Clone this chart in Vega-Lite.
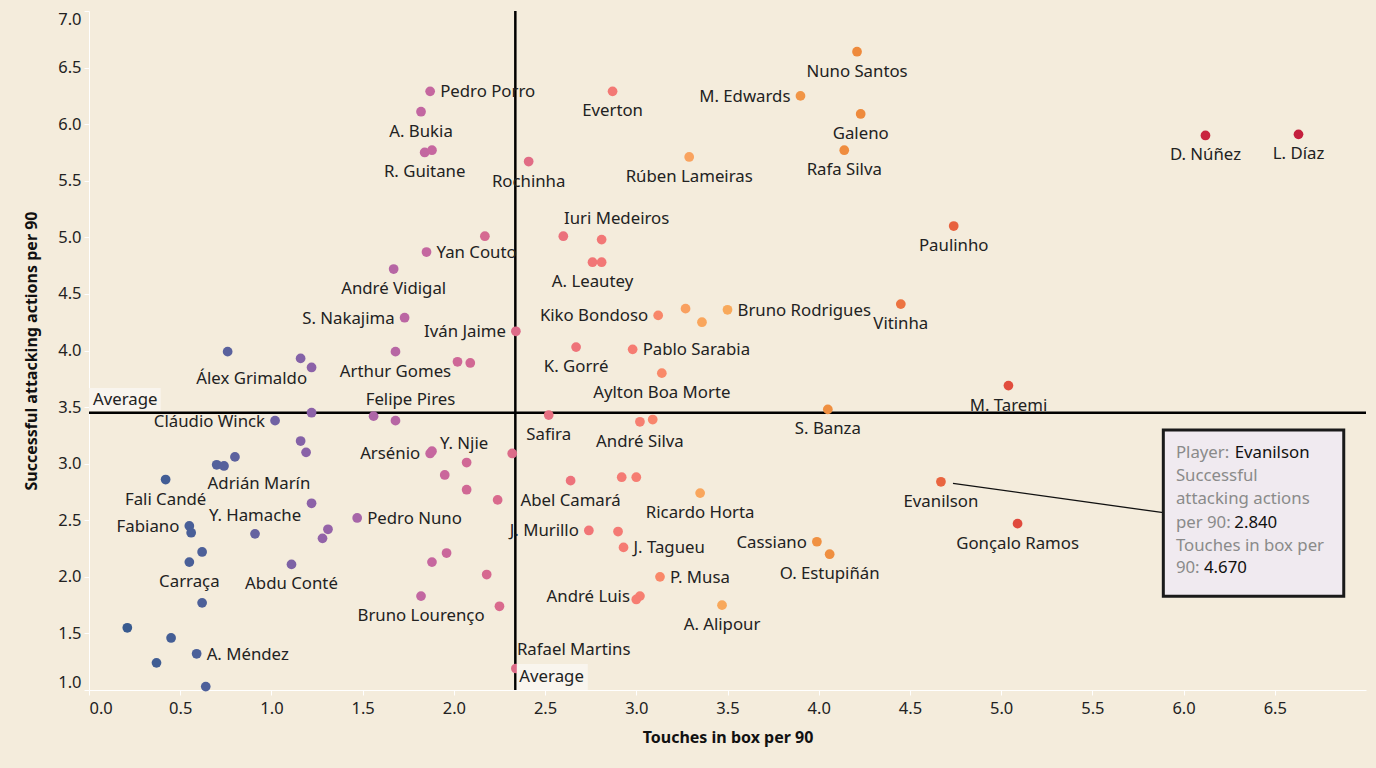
{
  "$schema": "https://vega.github.io/schema/vega-lite/v6.json",
  "width": 1277,
  "height": 679,
  "autosize": {"type": "none"},
  "padding": {"left": 89, "top": 11, "right": 10, "bottom": 78},
  "background": "#f4ecdc",
  "config": {"view": {"stroke": null}, "font": "Noto Sans"},
  "datasets": {
    "players": [
      {"player": "Pedro Porro", "touches": 1.87, "saa": 6.29},
      {"player": "A. Bukia", "touches": 1.82, "saa": 6.11},
      {"player": "R. Guitane", "touches": 1.84, "saa": 5.75},
      {"touches": 1.88, "saa": 5.77},
      {"player": "Yan Couto", "touches": 1.85, "saa": 4.87},
      {"player": "André Vidigal", "touches": 1.67, "saa": 4.72},
      {"player": "S. Nakajima", "touches": 1.73, "saa": 4.29},
      {"player": "Álex Grimaldo", "touches": 0.76, "saa": 3.99},
      {"touches": 1.16, "saa": 3.93},
      {"touches": 1.22, "saa": 3.85},
      {"player": "Arthur Gomes", "touches": 1.68, "saa": 3.99},
      {"touches": 2.02, "saa": 3.9},
      {"touches": 2.09, "saa": 3.89},
      {"player": "Cláudio Winck", "touches": 1.02, "saa": 3.38},
      {"touches": 1.22, "saa": 3.45},
      {"touches": 1.56, "saa": 3.42},
      {"player": "Felipe Pires", "touches": 1.68, "saa": 3.38},
      {"touches": 1.16, "saa": 3.2},
      {"touches": 1.19, "saa": 3.1},
      {"touches": 0.7, "saa": 2.99},
      {"touches": 0.74, "saa": 2.98},
      {"player": "Adrián Marín", "touches": 0.8, "saa": 3.06},
      {"player": "Fali Candé", "touches": 0.42, "saa": 2.86},
      {"player": "Arsénio", "touches": 1.87, "saa": 3.09},
      {"player": "Y. Njie", "touches": 1.88, "saa": 3.11},
      {"touches": 1.95, "saa": 2.9},
      {"player": "A. Leautey", "touches": 2.76, "saa": 4.78},
      {"touches": 2.81, "saa": 4.78},
      {"player": "Iván Jaime", "touches": 2.34, "saa": 4.17},
      {"player": "Kiko Bondoso", "touches": 3.12, "saa": 4.31},
      {"touches": 3.27, "saa": 4.37},
      {"touches": 3.36, "saa": 4.25},
      {"player": "Bruno Rodrigues", "touches": 3.5, "saa": 4.36},
      {"player": "K. Gorré", "touches": 2.67, "saa": 4.03},
      {"player": "Pablo Sarabia", "touches": 2.98, "saa": 4.01},
      {"player": "Aylton Boa Morte", "touches": 3.14, "saa": 3.8},
      {"player": "Safira", "touches": 2.52, "saa": 3.43},
      {"player": "André Silva", "touches": 3.02, "saa": 3.37},
      {"touches": 3.09, "saa": 3.39},
      {"touches": 2.32, "saa": 3.09},
      {"touches": 2.07, "saa": 3.01},
      {"touches": 2.07, "saa": 2.77},
      {"touches": 2.24, "saa": 2.68},
      {"player": "Abel Camará", "touches": 2.64, "saa": 2.85},
      {"touches": 2.92, "saa": 2.88},
      {"touches": 3.0, "saa": 2.88},
      {"player": "Ricardo Horta", "touches": 3.35, "saa": 2.74},
      {"player": "Pedro Nuno", "touches": 1.47, "saa": 2.52},
      {"player": "J. Murillo", "touches": 2.74, "saa": 2.41},
      {"touches": 2.9, "saa": 2.4},
      {"player": "J. Tagueu", "touches": 2.93, "saa": 2.26},
      {"touches": 1.96, "saa": 2.21},
      {"touches": 1.88, "saa": 2.13},
      {"touches": 2.18, "saa": 2.02},
      {"player": "P. Musa", "touches": 3.13, "saa": 2.0},
      {"player": "André Luis", "touches": 3.02, "saa": 1.83},
      {"touches": 3.0, "saa": 1.8},
      {"player": "Bruno Lourenço", "touches": 1.82, "saa": 1.83},
      {"touches": 2.25, "saa": 1.74},
      {"player": "A. Alipour", "touches": 3.47, "saa": 1.75},
      {"player": "Rafael Martins", "touches": 2.34, "saa": 1.19},
      {"player": "Cassiano", "touches": 3.99, "saa": 2.31},
      {"player": "O. Estupiñán", "touches": 4.06, "saa": 2.2},
      {"player": "Evanilson", "touches": 4.67, "saa": 2.84},
      {"player": "Gonçalo Ramos", "touches": 5.09, "saa": 2.47},
      {"player": "Vitinha", "touches": 4.45, "saa": 4.41},
      {"player": "M. Taremi", "touches": 5.04, "saa": 3.69},
      {"player": "S. Banza", "touches": 4.05, "saa": 3.48},
      {"player": "Nuno Santos", "touches": 4.21, "saa": 6.64},
      {"player": "M. Edwards", "touches": 3.9, "saa": 6.25},
      {"player": "Galeno", "touches": 4.23, "saa": 6.09},
      {"player": "Rafa Silva", "touches": 4.14, "saa": 5.77},
      {"player": "D. Núñez", "touches": 6.12, "saa": 5.9},
      {"player": "L. Díaz", "touches": 6.63, "saa": 5.91},
      {"player": "Paulinho", "touches": 4.74, "saa": 5.1},
      {"player": "Everton", "touches": 2.87, "saa": 6.29},
      {"player": "Rochinha", "touches": 2.41, "saa": 5.67},
      {"player": "Rúben Lameiras", "touches": 3.29, "saa": 5.71},
      {"touches": 2.17, "saa": 5.01},
      {"touches": 2.6, "saa": 5.01},
      {"player": "Iuri Medeiros", "touches": 2.81, "saa": 4.98},
      {"touches": 1.22, "saa": 2.65},
      {"player": "Fabiano", "touches": 0.55, "saa": 2.45},
      {"touches": 0.56, "saa": 2.39},
      {"player": "Y. Hamache", "touches": 0.91, "saa": 2.38},
      {"touches": 1.31, "saa": 2.42},
      {"touches": 1.28, "saa": 2.34},
      {"touches": 0.62, "saa": 2.22},
      {"player": "Carraça", "touches": 0.55, "saa": 2.13},
      {"player": "Abdu Conté", "touches": 1.11, "saa": 2.11},
      {"touches": 0.62, "saa": 1.77},
      {"touches": 0.21, "saa": 1.55},
      {"touches": 0.45, "saa": 1.46},
      {"player": "A. Méndez", "touches": 0.59, "saa": 1.32},
      {"touches": 0.37, "saa": 1.24},
      {"touches": 0.64, "saa": 1.03}
    ]
  },
  "encoding": {
    "x": {
      "field": "touches", "type": "quantitative",
      "scale": {"domain": [0, 7], "nice": false, "zero": false},
      "axis": {
        "title": "Touches in box per 90",
        "values": [0, 0.5, 1, 1.5, 2, 2.5, 3, 3.5, 4, 4.5, 5, 5.5, 6, 6.5],
        "format": ".1f", "grid": false, "labelFlush": true,
        "domainColor": "#ffffff", "tickColor": "#ffffff", "tickSize": 5,
        "labelPadding": 5, "labelFontSize": 16.5, "labelColor": "#222",
        "titleFontSize": 16, "titleFontWeight": "bold", "titleColor": "#111", "titlePadding": 13
      }
    },
    "y": {
      "field": "saa", "type": "quantitative",
      "scale": {"domain": [1, 7], "nice": false, "zero": false},
      "axis": {
        "title": "Successful attacking actions per 90",
        "values": [1, 1.5, 2, 2.5, 3, 3.5, 4, 4.5, 5, 5.5, 6, 6.5, 7],
        "format": ".1f", "grid": false, "labelFlush": true,
        "domainColor": "#ffffff", "tickColor": "#ffffff", "tickSize": 5,
        "labelPadding": 3, "labelFontSize": 16.5, "labelColor": "#222",
        "titleFontSize": 16, "titleFontWeight": "bold", "titleColor": "#111", "titlePadding": 18
      }
    }
  },
  "layer": [
    {
      "data": {"values": [
        {"touches": 0, "touches2": 7, "saa": 3.45},
        {"touches": 2.337, "saa": 1, "saa2": 7}
      ]},
      "mark": {"type": "rule", "color": "#000000", "strokeWidth": 2.5},
      "encoding": {"x2": {"field": "touches2"}, "y2": {"field": "saa2"}}
    },
    {
      "data": {"name": "players"},
      "mark": {"type": "circle", "size": 95, "opacity": 1},
      "encoding": {
        "color": {
          "field": "touches", "type": "quantitative", "legend": null,
          "scale": {
            "type": "linear", "interpolate": "rgb",
            "domain": [0.2, 0.6, 1.0, 1.2, 1.5, 1.85, 2.1, 2.4, 2.7, 3.0, 3.15, 3.3, 3.55, 3.95, 4.25, 4.5, 4.75, 5.1, 6.1, 6.65],
            "range": ["#385a8f", "#4b6099", "#6d62a2", "#8a62a8", "#a965a8", "#c467a0", "#d26894", "#e06c85", "#f07478", "#f67d72", "#f98a68", "#f9a55e", "#f8aa5a", "#f09243", "#ee893b", "#ec6e42", "#e8613f", "#e0493d", "#c9243e", "#c41f3d"]
          }
        }
      }
    },
    {
      "data": {"values": [
        {"touches": 0, "touches2": 0.393, "saa": 3.465, "saa2": 3.668},
        {"touches": 2.345, "touches2": 2.734, "saa": 1.0, "saa2": 1.23}
      ]},
      "mark": {"type": "rect", "fill": "#f9f5ee"},
      "encoding": {"x2": {"field": "touches2"}, "y2": {"field": "saa2"}}
    },
    {
      "data": {"values": [
        {"touches": 0, "saa": 3.563, "label": "Average"},
        {"touches": 2.337, "saa": 1.118, "label": "Average"}
      ]},
      "mark": {"type": "text", "align": "left", "baseline": "middle", "dx": 4, "fontSize": 16.8, "color": "#222"},
      "encoding": {"text": {"field": "label"}}
    },
    {
      "data": {"name": "players"},
      "transform": [{"filter": {"field": "player", "oneOf": ["A. Bukia", "R. Guitane", "Everton", "Rochinha", "Rúben Lameiras", "Nuno Santos", "Galeno", "Rafa Silva", "D. Núñez", "L. Díaz", "Paulinho", "André Vidigal", "A. Leautey", "Vitinha", "K. Gorré", "Arthur Gomes", "Aylton Boa Morte", "M. Taremi", "S. Banza", "Safira", "André Silva", "Fali Candé", "Abel Camará", "Ricardo Horta", "Evanilson", "Gonçalo Ramos", "O. Estupiñán", "Carraça", "Abdu Conté", "Bruno Lourenço", "A. Alipour"]}}],
      "mark": {"type": "text", "align": "center", "baseline": "middle", "dy": 20, "fontSize": 16.8, "color": "#222"},
      "encoding": {"text": {"field": "player"}}
    },
    {
      "data": {"name": "players"},
      "transform": [{"filter": {"field": "player", "oneOf": ["Álex Grimaldo", "Adrián Marín"]}}],
      "mark": {"type": "text", "align": "center", "baseline": "middle", "dx": 24, "dy": 27, "fontSize": 16.8, "color": "#222"},
      "encoding": {"text": {"field": "player"}}
    },
    {
      "data": {"name": "players"},
      "transform": [{"filter": {"field": "player", "oneOf": ["Pedro Porro", "Yan Couto", "Bruno Rodrigues", "Pablo Sarabia", "Pedro Nuno", "J. Tagueu", "P. Musa", "A. Méndez"]}}],
      "mark": {"type": "text", "align": "left", "baseline": "middle", "dx": 10, "dy": 1, "fontSize": 16.8, "color": "#222"},
      "encoding": {"text": {"field": "player"}}
    },
    {
      "data": {"name": "players"},
      "transform": [{"filter": {"field": "player", "oneOf": ["M. Edwards", "S. Nakajima", "Iván Jaime", "Kiko Bondoso", "Cláudio Winck", "Arsénio", "Fabiano", "J. Murillo", "Cassiano", "André Luis"]}}],
      "mark": {"type": "text", "align": "right", "baseline": "middle", "dx": -10, "dy": 1, "fontSize": 16.8, "color": "#222"},
      "encoding": {"text": {"field": "player"}}
    },
    {
      "data": {"name": "players"},
      "transform": [{"filter": {"field": "player", "oneOf": ["Y. Hamache"]}}],
      "mark": {"type": "text", "align": "center", "baseline": "middle", "dy": -18, "fontSize": 16.8, "color": "#222"},
      "encoding": {"text": {"field": "player"}}
    },
    {
      "data": {"name": "players"},
      "transform": [{"filter": {"field": "player", "oneOf": ["Iuri Medeiros", "Felipe Pires"]}}],
      "mark": {"type": "text", "align": "center", "baseline": "middle", "dx": 15, "dy": -21, "fontSize": 16.8, "color": "#222"},
      "encoding": {"text": {"field": "player"}}
    },
    {
      "data": {"name": "players"},
      "transform": [{"filter": {"field": "player", "oneOf": ["Y. Njie"]}}],
      "mark": {"type": "text", "align": "left", "baseline": "middle", "dx": 8, "dy": -7, "fontSize": 16.8, "color": "#222"},
      "encoding": {"text": {"field": "player"}}
    },
    {
      "data": {"name": "players"},
      "transform": [{"filter": {"field": "player", "oneOf": ["Rafael Martins"]}}],
      "mark": {"type": "text", "align": "left", "baseline": "middle", "dx": 1, "dy": -18, "fontSize": 16.8, "color": "#222"},
      "encoding": {"text": {"field": "player"}}
    },
    {
      "data": {"values": [{"touches": 4.736, "saa": 2.826, "touches2": 5.889, "saa2": 2.567}]},
      "mark": {"type": "rule", "color": "#111111", "strokeWidth": 1.3},
      "encoding": {"x2": {"field": "touches2"}, "y2": {"field": "saa2"}}
    },
    {
      "data": {"values": [{"touches": 5.889, "touches2": 6.878, "saa": 1.828, "saa2": 3.298}]},
      "mark": {"type": "rect", "fill": "#f0eaf0", "stroke": "#1a1a1a", "strokeWidth": 3},
      "encoding": {"x2": {"field": "touches2"}, "y2": {"field": "saa2"}}
    },
    {
      "data": {"values": [
        {"touches": 5.958, "saa": 3.092, "t": "Player:"},
        {"touches": 5.958, "saa": 2.891, "t": "Successful"},
        {"touches": 5.958, "saa": 2.688, "t": "attacking actions"},
        {"touches": 5.958, "saa": 2.478, "t": "per 90:"},
        {"touches": 5.958, "saa": 2.272, "t": "Touches in box per"},
        {"touches": 5.958, "saa": 2.075, "t": "90:"}
      ]},
      "mark": {"type": "text", "align": "left", "baseline": "middle", "fontSize": 16.8, "color": "#8a8a8a"},
      "encoding": {"text": {"field": "t"}}
    },
    {
      "data": {"values": [
        {"touches": 6.28, "saa": 3.092, "t": "Evanilson"},
        {"touches": 6.278, "saa": 2.478, "t": "2.840"},
        {"touches": 6.112, "saa": 2.075, "t": "4.670"}
      ]},
      "mark": {"type": "text", "align": "left", "baseline": "middle", "fontSize": 16.8, "color": "#111111"},
      "encoding": {"text": {"field": "t"}}
    }
  ]
}
